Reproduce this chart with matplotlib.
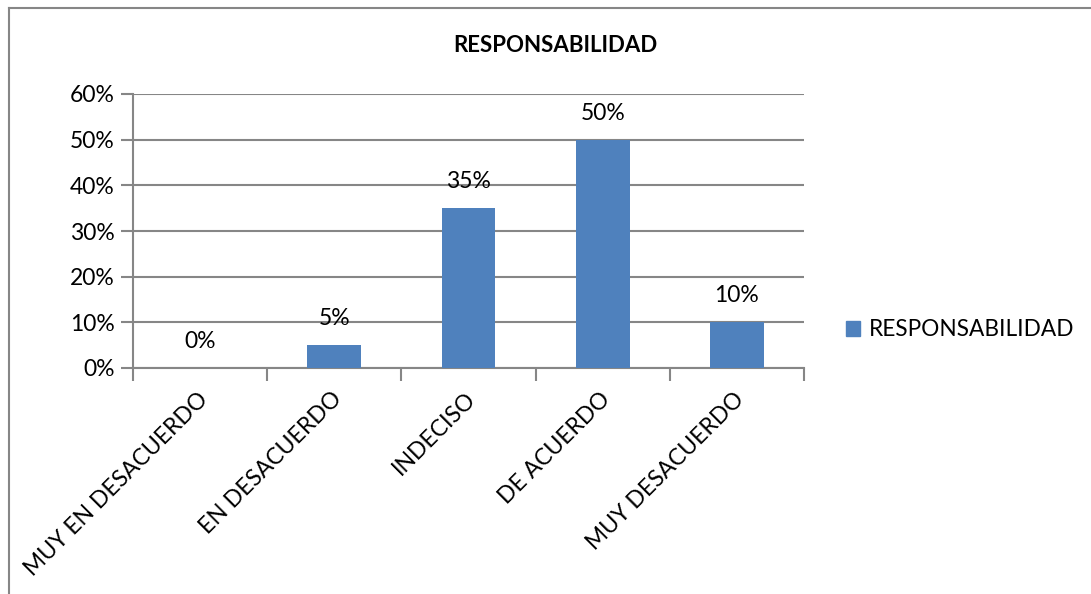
import matplotlib
matplotlib.use("Agg")
import matplotlib.pyplot as plt
from matplotlib.lines import Line2D
from matplotlib.patches import Patch

categories = ["MUY EN DESACUERDO", "EN DESACUERDO", "INDECISO", "DE ACUERDO", "MUY DESACUERDO"]
values = [0, 5, 35, 50, 10]
series_name = "RESPONSABILIDAD"
yticks = [0, 10, 20, 30, 40, 50, 60]

BAR = "#4F81BD"
GRID = "#868686"
FONT = "Lato"

plt.rcParams["font.family"] = [FONT, "DejaVu Sans"]

W, H = 1091, 594
fig = plt.figure(figsize=(W / 100, H / 100), dpi=100)
fig.patch.set_facecolor("white")

def fx(px):
    return px / W

def fy(py):
    return 1 - py / H

# chart frame (top and left edges)
fig.add_artist(Line2D([fx(9), 1], [fy(7.5), fy(7.5)], color=GRID, lw=1.5, transform=fig.transFigure))
fig.add_artist(Line2D([fx(9), fx(9)], [fy(7.5), 0], color=GRID, lw=1.5, transform=fig.transFigure))

left, right, top, bottom = 133, 804, 94, 368
ax = fig.add_axes([fx(left), fy(bottom), fx(right - left), (bottom - top) / H])

x = list(range(len(categories)))
ax.bar(x, values, width=0.4, color=BAR, zorder=3)
ax.set_xlim(-0.5, len(categories) - 0.5)
ax.set_ylim(0, 60)

ax.set_yticks(yticks)
ax.set_yticklabels([f"{v}%" for v in yticks], fontsize=16.5)
ax.yaxis.grid(True, color=GRID, lw=1.5, zorder=0)
ax.tick_params(axis="y", length=9, width=1.5, color=GRID, pad=4)

# category boundary ticks
ax.set_xticks([i - 0.5 for i in range(len(categories) + 1)])
ax.set_xticklabels([])
ax.tick_params(axis="x", length=9, width=1.5, color=GRID)
for i, c in enumerate(categories):
    ax.annotate(c, xy=(i, 0), xycoords=("data", "data"), xytext=(3, -20),
                textcoords="offset points", rotation=45, rotation_mode="anchor",
                ha="right", va="center", fontsize=16.5)

for s in ["top", "right"]:
    ax.spines[s].set_visible(False)
for s in ["left", "bottom"]:
    ax.spines[s].set_color(GRID)
    ax.spines[s].set_linewidth(1.5)

for i, v in enumerate(values):
    ax.annotate(f"{v}%", xy=(i, v), xytext=(0, 19), textcoords="offset points",
                ha="center", va="center", fontsize=16.5)

fig.text(fx(555), fy(45), series_name, ha="center", va="center", fontsize=16, fontweight="bold")

fig.legend(handles=[Patch(color=BAR, label=series_name)], loc="center left",
           bbox_to_anchor=(fx(826), fy(330)), frameon=False, fontsize=16.3,
           handlelength=0.6, handleheight=0.6, handletextpad=0.4)

fig.savefig("out.png", dpi=100, facecolor="white")
